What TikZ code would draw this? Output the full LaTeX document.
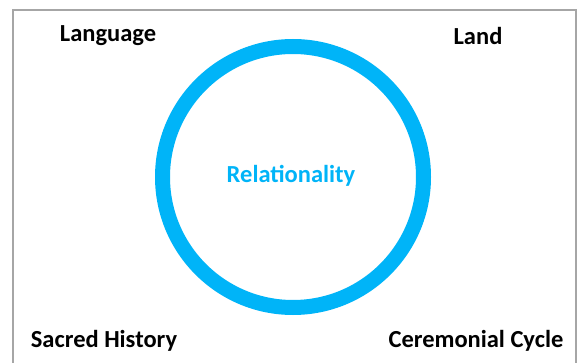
\documentclass[tikz,border=0pt]{standalone}
\usepackage{fontspec}
\setmainfont{Carlito}
\definecolor{ringblue}{HTML}{00B4F8}
\definecolor{framegray}{HTML}{A6A6A6}
\begin{document}
\begin{tikzpicture}[x=1pt,y=1pt,
  corner/.style={font=\bfseries\fontsize{24.5}{28}\selectfont, text=black, inner sep=0pt},
  centerlabel/.style={font=\bfseries\fontsize{24.5}{28}\selectfont, text=ringblue, inner sep=0pt}]
  \useasboundingbox (0,0) rectangle (579,362);
  \clip (0,0) rectangle (579,362);
  \fill[white] (0,0) rectangle (579,362);
  \draw[framegray, line width=1.5pt] (13,-10) rectangle (576,352);
  \node[draw=ringblue, line width=15pt, circle, minimum size=261pt, inner sep=0pt] (ring) at (293,185) {};
  \node[centerlabel] (rel) at (291,186) {Relationality};
  \node[corner] (lang) at (108,326) {Language};
  \node[corner] (land) at (478,326) {Land};
  \node[corner] (sacred) at (104,21) {Sacred History};
  \node[corner] (cer) at (476,21) {Ceremonial Cycle};
\end{tikzpicture}
\end{document}
